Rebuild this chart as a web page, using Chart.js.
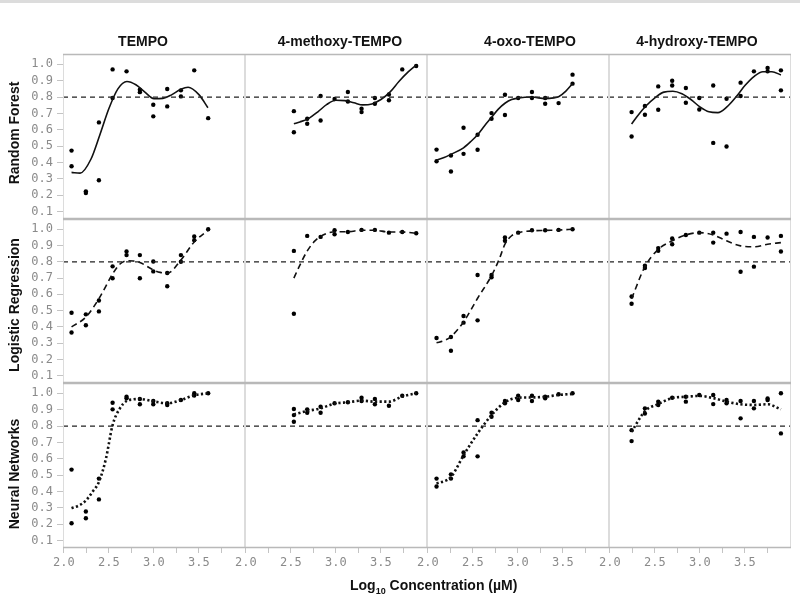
<!DOCTYPE html>
<html>
<head>
<meta charset="utf-8">
<script src="https://cdn.jsdelivr.net/npm/chart.js@4.4.1/dist/chart.umd.min.js"></script>
<style>
body { margin: 0; background: #fff; font-family: "Liberation Sans", Arial, sans-serif; }
#wrap { position: relative; width: 800px; height: 594px; overflow: hidden; }
#wrap canvas { position: absolute; left: 0; top: 0; }
.title { position: absolute; font-weight: bold; font-size: 14px; line-height: 16px; white-space: nowrap; transform: translateX(-50%); color: #111; }
.rowlab { position: absolute; font-weight: bold; font-size: 14px; line-height: 16px; white-space: nowrap; transform: translate(-50%, -50%) rotate(-90deg); color: #111; }
.xtitle { position: absolute; font-weight: bold; font-size: 14px; line-height: 16px; white-space: nowrap; color: #111; }
.xtitle sub { font-size: 9px; }
#topbar { position: absolute; left: 0; top: 0; width: 800px; height: 3px; background: #dcdcdc; }
</style>
</head>
<body>
<div id="wrap"><div id="topbar"></div></div>
<script>
// column / row names
const compounds = ['TEMPO', '4-methoxy-TEMPO', '4-oxo-TEMPO', '4-hydroxy-TEMPO'];
const models = ['Random Forest', 'Logistic Regression', 'Neural Networks'];

// ticks
const yTicks = [0.1, 0.2, 0.3, 0.4, 0.5, 0.6, 0.7, 0.8, 0.9, 1.0];
const xTicks = [2.0, 2.25, 2.5, 2.75, 3.0, 3.25, 3.5, 3.75];
const xLabels = ['2.0', '', '2.5', '', '3.0', '', '3.5', ''];
const threshold = 0.8;

// Random Forest: measured points [log10 conc, score] and fitted curve
const rfTempoPts = [[2.085,0.473],[2.085,0.377],[2.244,0.224],[2.244,0.214],[2.389,0.645],[2.389,0.292],[2.541,0.969],[2.541,0.794],[2.696,0.957],[2.844,0.845],[2.844,0.83],[2.993,0.753],[2.993,0.682],[3.148,0.849],[3.148,0.743],[3.30,0.841],[3.30,0.804],[3.448,0.963],[3.603,0.671]];
const rfTempoFit = [[2.085,0.34],[2.18,0.335],[2.3,0.42],[2.4,0.57],[2.5,0.73],[2.6,0.85],[2.7,0.895],[2.8,0.875],[2.9,0.83],[3.0,0.79],[3.1,0.792],[3.2,0.815],[3.3,0.848],[3.38,0.86],[3.5,0.815],[3.6,0.735]];
const rfMethoxyPts = [[2.533,0.714],[2.533,0.585],[2.681,0.667],[2.681,0.637],[2.83,0.806],[2.83,0.657],[2.985,0.788],[3.133,0.831],[3.133,0.773],[3.285,0.729],[3.285,0.708],[3.433,0.794],[3.433,0.759],[3.589,0.816],[3.589,0.78],[3.737,0.969],[3.892,0.99]];
const rfMethoxyFit = [[2.533,0.637],[2.6,0.648],[2.7,0.67],[2.8,0.71],[2.9,0.755],[3.0,0.78],[3.1,0.778],[3.2,0.765],[3.3,0.752],[3.4,0.758],[3.5,0.785],[3.6,0.83],[3.7,0.895],[3.8,0.952],[3.892,0.995]];
const rfOxoPts = [[2.096,0.479],[2.096,0.408],[2.256,0.345],[2.256,0.443],[2.396,0.612],[2.396,0.453],[2.552,0.478],[2.552,0.57],[2.707,0.702],[2.707,0.667],[2.856,0.814],[2.856,0.69],[3.003,0.794],[3.156,0.831],[3.156,0.794],[3.303,0.794],[3.303,0.759],[3.452,0.763],[3.607,0.937],[3.607,0.882]];
const rfOxoFit = [[2.096,0.416],[2.18,0.43],[2.256,0.45],[2.396,0.49],[2.48,0.53],[2.552,0.57],[2.63,0.625],[2.707,0.676],[2.78,0.725],[2.856,0.762],[2.93,0.785],[3.003,0.794],[3.156,0.8],[3.303,0.79],[3.4,0.795],[3.452,0.802],[3.53,0.835],[3.607,0.882]];
const rfHydroxyPts = [[2.241,0.708],[2.241,0.559],[2.389,0.745],[2.389,0.692],[2.537,0.865],[2.537,0.722],[2.692,0.9],[2.692,0.871],[2.844,0.855],[2.844,0.765],[2.993,0.794],[2.993,0.724],[3.148,0.871],[3.148,0.52],[3.296,0.79],[3.296,0.498],[3.452,0.888],[3.452,0.806],[3.6,0.957],[3.752,0.978],[3.752,0.957],[3.9,0.963],[3.9,0.841]];
const rfHydroxyFit = [[2.241,0.635],[2.3,0.68],[2.4,0.745],[2.5,0.795],[2.6,0.83],[2.7,0.835],[2.8,0.82],[2.9,0.785],[3.0,0.74],[3.1,0.71],[3.2,0.705],[3.3,0.74],[3.4,0.8],[3.5,0.87],[3.6,0.925],[3.7,0.955],[3.8,0.955],[3.9,0.935]];

// Logistic Regression
const lrTempoPts = [[2.085,0.487],[2.085,0.365],[2.244,0.477],[2.244,0.41],[2.389,0.562],[2.389,0.495],[2.541,0.772],[2.541,0.699],[2.696,0.863],[2.696,0.841],[2.844,0.841],[2.844,0.699],[2.993,0.802],[2.993,0.741],[3.148,0.731],[3.148,0.65],[3.3,0.841],[3.3,0.8],[3.448,0.955],[3.448,0.933],[3.603,1.0]];
const lrTempoFit = [[2.085,0.4],[2.244,0.46],[2.389,0.573],[2.541,0.725],[2.62,0.785],[2.696,0.806],[2.77,0.805],[2.844,0.796],[2.993,0.75],[3.07,0.735],[3.148,0.73],[3.3,0.811],[3.448,0.922],[3.603,0.995]];
const lrMethoxyPts = [[2.533,0.867],[2.533,0.481],[2.681,0.959],[2.83,0.953],[2.985,0.994],[2.985,0.969],[3.133,0.983],[3.285,0.996],[3.433,0.996],[3.589,0.979],[3.737,0.983],[3.892,0.975]];
const lrMethoxyFit = [[2.533,0.70],[2.6,0.78],[2.68,0.865],[2.77,0.93],[2.9,0.975],[3.0,0.985],[3.133,0.985],[3.285,0.994],[3.433,0.994],[3.589,0.983],[3.737,0.983],[3.892,0.975]];
const lrOxoPts = [[2.096,0.332],[2.256,0.338],[2.256,0.253],[2.396,0.467],[2.396,0.426],[2.552,0.719],[2.552,0.44],[2.707,0.719],[2.707,0.705],[2.856,0.949],[2.856,0.929],[3.003,0.979],[3.156,0.994],[3.303,0.994],[3.452,0.996],[3.607,1.0]];
const lrOxoFit = [[2.096,0.302],[2.18,0.315],[2.256,0.34],[2.396,0.43],[2.552,0.576],[2.707,0.715],[2.793,0.817],[2.856,0.908],[2.93,0.96],[3.003,0.979],[3.156,0.99],[3.303,0.993],[3.452,0.995],[3.607,1.0]];
const lrHydroxyPts = [[2.241,0.587],[2.241,0.542],[2.389,0.776],[2.389,0.762],[2.537,0.884],[2.537,0.868],[2.692,0.943],[2.692,0.908],[2.844,0.965],[2.993,0.979],[3.148,0.979],[3.148,0.918],[3.296,0.973],[3.452,0.983],[3.452,0.739],[3.6,0.953],[3.6,0.77],[3.752,0.949],[3.9,0.959],[3.9,0.863]];
const lrHydroxyFit = [[2.241,0.573],[2.389,0.77],[2.537,0.876],[2.692,0.929],[2.844,0.965],[2.993,0.979],[3.148,0.965],[3.296,0.929],[3.452,0.898],[3.6,0.892],[3.752,0.908],[3.9,0.918]];

// Neural Networks
const nnTempoPts = [[2.085,0.534],[2.085,0.206],[2.244,0.278],[2.244,0.237],[2.389,0.479],[2.389,0.352],[2.541,0.942],[2.541,0.902],[2.696,0.979],[2.696,0.97],[2.844,0.965],[2.844,0.933],[2.993,0.953],[2.993,0.933],[3.148,0.939],[3.148,0.929],[3.3,0.959],[3.448,1.0],[3.448,0.986],[3.603,1.0]];
const nnTempoFit = [[2.085,0.298],[2.17,0.315],[2.244,0.345],[2.32,0.4],[2.389,0.458],[2.467,0.601],[2.541,0.806],[2.622,0.908],[2.696,0.953],[2.77,0.963],[2.844,0.965],[2.993,0.951],[3.148,0.939],[3.3,0.959],[3.448,0.988],[3.603,1.0]];
const nnMethoxyPts = [[2.533,0.904],[2.533,0.867],[2.533,0.826],[2.681,0.902],[2.681,0.881],[2.83,0.918],[2.83,0.881],[2.985,0.939],[3.133,0.945],[3.285,0.973],[3.285,0.953],[3.433,0.965],[3.433,0.933],[3.589,0.924],[3.737,0.985],[3.892,1.0]];
const nnMethoxyFit = [[2.533,0.871],[2.681,0.892],[2.83,0.908],[2.985,0.937],[3.133,0.945],[3.285,0.955],[3.433,0.949],[3.589,0.949],[3.737,0.98],[3.892,1.0]];
const nnOxoPts = [[2.096,0.479],[2.096,0.431],[2.256,0.505],[2.256,0.479],[2.396,0.638],[2.396,0.615],[2.552,0.836],[2.552,0.615],[2.707,0.881],[2.707,0.857],[2.856,0.953],[2.856,0.939],[3.003,0.985],[3.003,0.959],[3.156,0.985],[3.156,0.953],[3.303,0.979],[3.303,0.97],[3.452,0.994],[3.607,1.0]];
const nnOxoFit = [[2.096,0.448],[2.256,0.489],[2.396,0.621],[2.552,0.755],[2.707,0.867],[2.856,0.945],[3.003,0.973],[3.156,0.975],[3.303,0.979],[3.452,0.99],[3.607,0.996]];
const nnHydroxyPts = [[2.241,0.775],[2.241,0.708],[2.389,0.908],[2.389,0.877],[2.537,0.949],[2.537,0.929],[2.692,0.973],[2.844,0.979],[2.844,0.949],[2.993,0.99],[3.148,0.99],[3.148,0.934],[3.296,0.959],[3.296,0.939],[3.452,0.953],[3.452,0.847],[3.6,0.953],[3.6,0.908],[3.752,0.969],[3.752,0.959],[3.9,1.0],[3.9,0.755]];
const nnHydroxyFit = [[2.241,0.765],[2.389,0.891],[2.537,0.935],[2.692,0.971],[2.844,0.979],[2.993,0.984],[3.148,0.971],[3.296,0.949],[3.452,0.933],[3.6,0.929],[3.752,0.933],[3.9,0.902]];

const points = [
    [rfTempoPts, rfMethoxyPts, rfOxoPts, rfHydroxyPts],
    [lrTempoPts, lrMethoxyPts, lrOxoPts, lrHydroxyPts],
    [nnTempoPts, nnMethoxyPts, nnOxoPts, nnHydroxyPts]
];
const fits = [
    [rfTempoFit, rfMethoxyFit, rfOxoFit, rfHydroxyFit],
    [lrTempoFit, lrMethoxyFit, lrOxoFit, lrHydroxyFit],
    [nnTempoFit, nnMethoxyFit, nnOxoFit, nnHydroxyFit]
];

// layout (pixels)
const W = 800, H = 594;
const plotLeft = [63, 245, 427, 609];
const plotW = 182;
const plotTop = [54, 219, 383];
const plotH = [165, 164, 165];
const xMin = 1.99, xMax = 4.012;
const yMin = 0.055, yMax = 1.063;

// line style per model: solid, dashed, dotted
const fitDash = [[], [6, 4], [2.2, 2.4]];
const fitWidth = [1.6, 1.6, 2.6];

const tickFont = { family: 'DejaVu Sans Mono', size: 12 };
const tickColor = '#8a8a8a';

const wrap = document.getElementById('wrap');

// frame around each panel
const panelFrame = {
    id: 'panelFrame',
    afterDraw(chart) {
        const a = chart.chartArea;
        const ctx = chart.ctx;
        ctx.save();
        ctx.strokeStyle = '#dcdcdc';
        ctx.lineWidth = 1;
        ctx.beginPath();
        ctx.moveTo(a.left + 0.5, a.top); ctx.lineTo(a.left + 0.5, a.bottom);
        ctx.moveTo(a.right - 0.5, a.top); ctx.lineTo(a.right - 0.5, a.bottom);
        ctx.stroke();
        ctx.strokeStyle = '#b9b9b9';
        ctx.lineWidth = 1.5;
        ctx.beginPath();
        ctx.moveTo(a.left, a.top + 0.5); ctx.lineTo(a.right, a.top + 0.5);
        ctx.moveTo(a.left, a.bottom - 0.5); ctx.lineTo(a.right, a.bottom - 0.5);
        ctx.stroke();
        ctx.restore();
    }
};

function toXY(arr) {
    return arr.map(([x, y]) => ({ x: x, y: y }));
}

for (let r = 0; r < models.length; r++) {
    for (let c = 0; c < compounds.length; c++) {
        const canvas = document.createElement('canvas');
        canvas.width = W;
        canvas.height = H;
        wrap.appendChild(canvas);

        const showY = c === 0;
        const showX = r === models.length - 1;

        new Chart(canvas, {
            type: 'scatter',
            data: {
                datasets: [
                    {
                        data: [{ x: xMin, y: threshold }, { x: xMax, y: threshold }],
                        showLine: true,
                        borderColor: '#222',
                        borderWidth: 1.3,
                        borderDash: [5, 4],
                        pointRadius: 0
                    },
                    {
                        data: toXY(fits[r][c]),
                        showLine: true,
                        borderColor: '#111',
                        borderWidth: fitWidth[r],
                        borderDash: fitDash[r],
                        pointRadius: 0,
                        tension: 0.4,
                        cubicInterpolationMode: 'monotone'
                    },
                    {
                        data: toXY(points[r][c]),
                        pointRadius: 2.2,
                        pointBackgroundColor: '#000',
                        pointBorderWidth: 0
                    }
                ]
            },
            options: {
                responsive: false,
                animation: false,
                devicePixelRatio: 1,
                layout: {
                    padding: {
                        left: showY ? 0 : plotLeft[c],
                        right: W - plotLeft[c] - plotW,
                        top: plotTop[r],
                        bottom: H - plotTop[r] - plotH[r] - (showX ? 24 : 0)
                    }
                },
                plugins: { legend: { display: false }, tooltip: { enabled: false } },
                scales: {
                    x: {
                        type: 'linear',
                        min: xMin,
                        max: xMax,
                        display: showX,
                        afterBuildTicks: s => { s.ticks = xTicks.map(v => ({ value: v })); },
                        afterFit: s => { s.height = showX ? 24 : 0; },
                        grid: { drawOnChartArea: false, drawTicks: true, tickLength: 5, color: '#c4c4c4' },
                        border: { display: false },
                        ticks: {
                            autoSkip: false,
                            maxRotation: 0,
                            padding: 3,
                            color: tickColor,
                            font: tickFont,
                            callback: (v, i) => xLabels[i]
                        }
                    },
                    y: {
                        type: 'linear',
                        min: yMin,
                        max: yMax,
                        display: showY,
                        afterBuildTicks: s => { s.ticks = yTicks.map(v => ({ value: v })); },
                        afterFit: s => { s.width = showY ? 63 : 0; },
                        grid: { drawOnChartArea: false, drawTicks: true, tickLength: 6, color: '#c4c4c4' },
                        border: { display: false },
                        ticks: {
                            autoSkip: false,
                            padding: 4,
                            color: tickColor,
                            font: tickFont,
                            callback: v => v.toFixed(1)
                        }
                    }
                }
            },
            plugins: [panelFrame]
        });
    }
}

// text labels
const titleX = [143, 340, 530, 697];
compounds.forEach((name, i) => {
    const d = document.createElement('div');
    d.className = 'title';
    d.style.left = titleX[i] + 'px';
    d.style.top = '33px';
    d.textContent = name;
    wrap.appendChild(d);
});

const rowLabelY = [133, 305, 474];
models.forEach((name, i) => {
    const d = document.createElement('div');
    d.className = 'rowlab';
    d.style.left = '14px';
    d.style.top = rowLabelY[i] + 'px';
    d.textContent = name;
    wrap.appendChild(d);
});

const xt = document.createElement('div');
xt.className = 'xtitle';
xt.style.left = '350px';
xt.style.top = '577px';
xt.innerHTML = 'Log<sub>10</sub> Concentration (\u00b5M)';
wrap.appendChild(xt);
</script>
</body>
</html>
